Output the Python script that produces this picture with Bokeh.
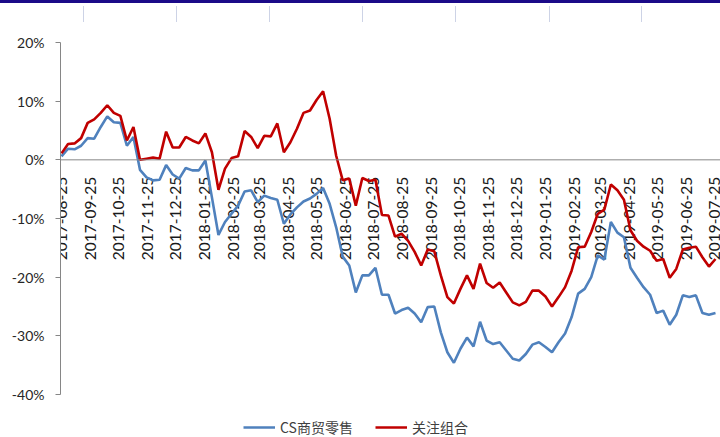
import math
import pandas as pd
from bokeh.plotting import figure
from bokeh.layouts import column
from bokeh.models import (Range1d, FixedTicker, PrintfTickFormatter, Span,
                          Legend, LegendItem, LinearAxis, ColumnDataSource, Div)
from bokeh.core.properties import value
from bokeh.embed import file_html
from bokeh.resources import INLINE

# ---------------- data (weekly, % return) ----------------
start_date = "2017-08-25"

cs_retail = [0.6, 1.9, 1.8, 2.4, 3.7, 3.6, 5.6, 7.4, 6.4, 6.3,
             2.4, 3.9, -1.7, -3.0, -3.5, -3.4, -0.9, -2.5, -3.2, -1.4,
             -1.8, -1.8, -0.1, -6.4, -12.8, -10.6, -9.2, -7.8, -5.4, -5.2,
             -7.2, -6.1, -6.5, -6.8, -10.9, -9.3, -8.1, -7.1, -6.6, -5.8,
             -4.8, -7.5, -11.5, -16.5, -18.0, -22.6, -19.7, -19.7, -18.4, -23.0,
             -23.0, -26.2, -25.6, -25.2, -26.2, -27.7, -25.1, -25.0, -29.4, -32.8,
             -34.6, -32.2, -30.3, -31.8, -27.6, -30.8, -31.4, -31.1, -32.5, -33.9,
             -34.2, -33.1, -31.5, -31.1, -31.9, -32.8, -31.1, -29.6, -26.8, -22.8,
             -22.0, -20.0, -16.3, -17.0, -10.6, -12.4, -13.2, -18.4, -20.1, -21.7,
             -23.0, -26.1, -25.7, -28.1, -26.4, -23.1, -23.4, -23.1, -26.1, -26.4,
             -26.1]

focus_portfolio = [1.1, 2.7, 2.8, 3.7, 6.3, 6.9, 8.0, 9.3, 8.0, 7.5,
                   3.3, 5.6, 0.0, 0.2, 0.4, 0.2, 4.8, 2.1, 2.1, 3.9,
                   3.3, 2.8, 4.5, 1.3, -5.1, -1.5, 0.3, 0.6, 4.9, 3.9,
                   2.0, 4.1, 4.0, 6.2, 1.3, 3.0, 5.3, 8.0, 8.4, 10.2,
                   11.7, 7.0, 0.7, -3.5, -3.2, -7.8, -3.1, -3.6, -3.4, -9.4,
                   -9.5, -13.1, -12.6, -13.8, -15.7, -18.0, -15.3, -15.6, -19.7, -23.4,
                   -24.5, -22.0, -19.7, -22.0, -17.7, -21.0, -21.8, -20.9, -22.6, -24.3,
                   -24.8, -24.2, -22.3, -22.3, -23.3, -25.0, -23.4, -21.7, -18.9, -14.9,
                   -14.8, -12.3, -9.2, -8.5, -4.2, -5.2, -6.8, -12.0, -13.8, -14.8,
                   -15.5, -17.2, -16.9, -20.1, -18.6, -15.3, -15.0, -14.8, -16.6, -18.2,
                   -16.9]

tick_labels = ["2017-08-25", "2017-09-25", "2017-10-25", "2017-11-25",
               "2017-12-25", "2018-01-25", "2018-02-25", "2018-03-25",
               "2018-04-25", "2018-05-25", "2018-06-25", "2018-07-25",
               "2018-08-25", "2018-09-25", "2018-10-25", "2018-11-25",
               "2018-12-25", "2019-01-25", "2019-02-25", "2019-03-25",
               "2019-04-25", "2019-05-25", "2019-06-25", "2019-07-25"]

y_ticks = [-40, -30, -20, -10, 0, 10, 20]

series_names = ["CS商贸零售", "关注组合"]
series_colors = ["#4F81BD", "#C00000"]

# ---------------- layout constants ----------------
W, H = 720, 437
HEADER = 24                        # decorative page header strip
TOP, LEFT, RIGHT = 42 - HEADER, 60, 0
AXIS_PX = 352                      # pixel height of the -40%..20% axis
FIG_H = H - HEADER
px_per_unit = AXIS_PX / (y_ticks[-1] - y_ticks[0])
y_bottom = y_ticks[0] - (FIG_H - TOP - AXIS_PX) / px_per_unit
px_per_day = 655.0 / 701.0

# ---------------- header strip (page decoration) ----------------
rules = "".join(
    f'<div style="position:absolute;left:{x}px;top:6px;width:1px;height:16px;'
    f'background:#cdd3e6;"></div>'
    for x in (83, 176, 269, 362, 455, 549, 641))
header = Div(text=(f'<div style="position:relative;width:{W}px;height:{HEADER}px;">'
                   f'<div style="position:absolute;left:0;top:0;width:{W}px;height:3px;'
                   f'background:#1b0a88;"></div>{rules}</div>'),
             width=W, height=HEADER, margin=(0, 0, 0, 0))

# ---------------- figure ----------------
dates = pd.date_range(start_date, periods=len(cs_retail), freq="7D")
label_dates = pd.to_datetime(tick_labels)
day = pd.Timedelta(days=1)

p = figure(width=W, height=FIG_H, output_backend="svg", toolbar_location=None,
           x_axis_type="datetime", x_axis_location=None, y_axis_location=None,
           x_range=Range1d(dates[0] - (1 / px_per_day) * day,
                           dates[-1] + (5 / px_per_day) * day),
           y_range=Range1d(y_bottom, y_ticks[-1]),
           min_border_left=LEFT, min_border_right=RIGHT,
           min_border_top=TOP, min_border_bottom=0, margin=(0, 0, 0, 0))
p.outline_line_color = None
p.xgrid.visible = False
p.ygrid.visible = False
p.background_fill_color = "white"
p.border_fill_color = "white"

yaxis = LinearAxis(ticker=FixedTicker(ticks=y_ticks),
                   formatter=PrintfTickFormatter(format="%d%%"),
                   bounds=(y_ticks[0], y_ticks[-1]))
yaxis.axis_line_color = "#868686"
yaxis.major_tick_line_color = "#868686"
yaxis.major_tick_out = 5
yaxis.major_tick_in = 0
yaxis.minor_tick_line_color = None
yaxis.major_label_standoff = 11
yaxis.major_label_text_font = "Lato"
yaxis.major_label_text_font_size = "14px"
yaxis.major_label_text_color = "#262626"
p.add_layout(yaxis, "left")

# zero line acting as category axis
p.add_layout(Span(location=0, dimension="width", line_color="#868686",
                  line_width=1))

# rotated category labels hanging below the zero line
lbl_src = ColumnDataSource(dict(x=label_dates, text=tick_labels))
p.text(x="x", y=0, text="text", source=lbl_src, angle=math.pi / 2,
       text_align="right", text_baseline="middle", y_offset=17,
       text_font=value("Lato"), text_font_size="15.5px", text_color="#1a1a1a")

src = ColumnDataSource(dict(x=dates, cs=cs_retail, focus=focus_portfolio))
r_cs = p.line("x", "cs", source=src, line_color=series_colors[0], line_width=2.6)
r_fo = p.line("x", "focus", source=src, line_color=series_colors[1], line_width=2.6)

legend = Legend(items=[LegendItem(label=series_names[0], renderers=[r_cs]),
                       LegendItem(label=series_names[1], renderers=[r_fo])],
                orientation="horizontal", location=(183, 0))
legend.glyph_width = 32
legend.label_standoff = 5
legend.spacing = 22
legend.padding = 0
legend.margin = 0
legend.border_line_color = None
legend.background_fill_alpha = 0
legend.label_text_font = "Noto Sans CJK SC"
legend.label_text_font_size = "14px"
legend.label_text_color = "#404040"
p.add_layout(legend, "center")

layout = column(header, p, spacing=0)
open("out.html", "w").write(file_html(layout, INLINE))
